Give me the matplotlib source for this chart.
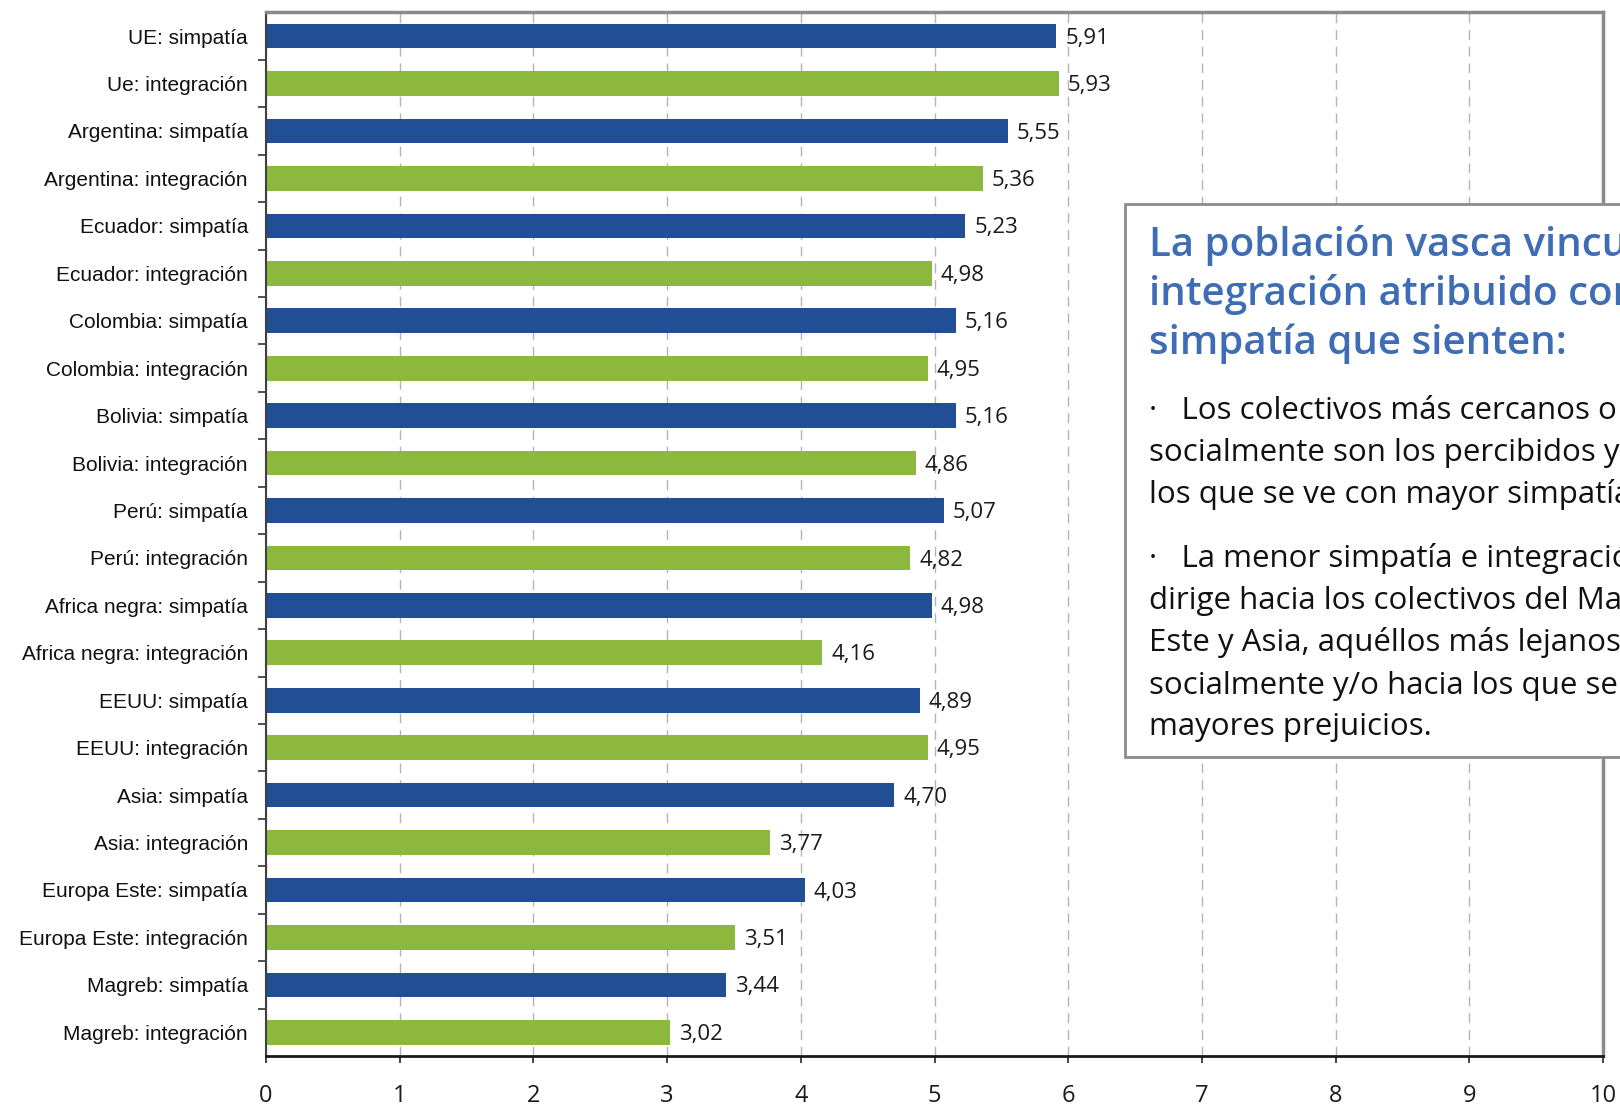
import matplotlib
matplotlib.use("Agg")
import matplotlib.pyplot as plt
from matplotlib.patches import Rectangle

W, H = 1620, 1105

labels = ["UE: simpatía", "Ue: integración", "Argentina: simpatía", "Argentina: integración",
          "Ecuador: simpatía", "Ecuador: integración", "Colombia: simpatía", "Colombia: integración",
          "Bolivia: simpatía", "Bolivia: integración", "Perú: simpatía", "Perú: integración",
          "Africa negra: simpatía", "Africa negra: integración", "EEUU: simpatía", "EEUU: integración",
          "Asia: simpatía", "Asia: integración", "Europa Este: simpatía", "Europa Este: integración",
          "Magreb: simpatía", "Magreb: integración"]
values = [5.91, 5.93, 5.55, 5.36, 5.23, 4.98, 5.16, 4.95, 5.16, 4.86, 5.07, 4.82,
          4.98, 4.16, 4.89, 4.95, 4.70, 3.77, 4.03, 3.51, 3.44, 3.02]
xticks = list(range(0, 11))

title_lines = ["La población vasca vincula el grado de",
               "integración atribuido con la",
               "simpatía que sienten:"]
para1 = ["·   Los colectivos más cercanos o integrados",
         "socialmente son los percibidos y",
         "los que se ve con mayor simpatía."]
para2 = ["·   La menor simpatía e integración se",
         "dirige hacia los colectivos del Magreb,",
         "Este y Asia, aquéllos más lejanos",
         "socialmente y/o hacia los que se tienen",
         "mayores prejuicios."]

C_SIM, C_INT = "#214F95", "#8DB83E"
C_TITLE = "#3F6DB5"
NUM_FONT = ["Open Sans", "DejaVu Sans"]

fig = plt.figure(figsize=(W / 100, H / 100), dpi=100)
ax = fig.add_axes([266 / W, 1 - 1056 / H, (1603 - 266) / W, (1056 - 12.4) / H])

ypos = list(range(len(labels)))
colors = [C_SIM if "simpat" in l else C_INT for l in labels]
ax.barh(ypos, values, height=0.52, color=colors, zorder=2)
for y, v in zip(ypos, values):
    ax.annotate(f"{v:.2f}".replace(".", ","), (v, y), xytext=(6.5, -1.5), textcoords="offset points",
                va="center", ha="left", fontsize=16, family=NUM_FONT, color="#1a1a1a")

ax.set_xlim(0, 10)
ax.set_ylim(len(labels) - 0.5, -0.5)
ax.set_xticks(xticks)
ax.set_xticklabels([str(t) for t in xticks], family=NUM_FONT, fontsize=17, color="#1a1a1a")
ax.tick_params(axis="x", direction="out", length=5, width=1.2, color="#222222", pad=15)
ax.set_yticks(ypos)
ax.set_yticklabels(labels, family=["Liberation Sans", "DejaVu Sans"], fontsize=15, color="#111111")
ax.tick_params(axis="y", which="major", length=0, pad=13)
ax.set_yticks([y + 0.5 for y in ypos[:-1]], minor=True)
ax.tick_params(axis="y", which="minor", direction="out", length=6, width=1.2, color="#333333")
ax.set_axisbelow(True)
ax.grid(True, axis="x", color="#B4B4B4", lw=1, dashes=(7, 5))

ax.spines["left"].set_color("#404040"); ax.spines["left"].set_linewidth(1.5)
ax.spines["bottom"].set_color("#1a1a1a"); ax.spines["bottom"].set_linewidth(2)
for s in ("top", "right"):
    ax.spines[s].set_color("#8A8A8A"); ax.spines[s].set_linewidth(2.5)

# text box on the right, cut off by the figure edge
box = Rectangle((1125 / W, 1 - 757 / H), 0.5, (757 - 204) / H, transform=fig.transFigure,
                facecolor="white", edgecolor="#8C8C8C", lw=2, zorder=5)
fig.add_artist(box)

x0 = 1149 / W
for line, yp in zip(title_lines, [246, 295, 344]):
    fig.text(x0, 1 - yp / H, line, va="center", ha="left", fontsize=29, weight="semibold",
             family=NUM_FONT, color=C_TITLE, zorder=6)
for line, yp in zip(para1 + para2, [411, 453, 495, 559, 601, 643, 686, 727]):
    fig.text(x0, 1 - yp / H, line, va="center", ha="left", fontsize=22.5,
             family=NUM_FONT, color="#111111", zorder=6)

fig.savefig("out.png", dpi=100)
